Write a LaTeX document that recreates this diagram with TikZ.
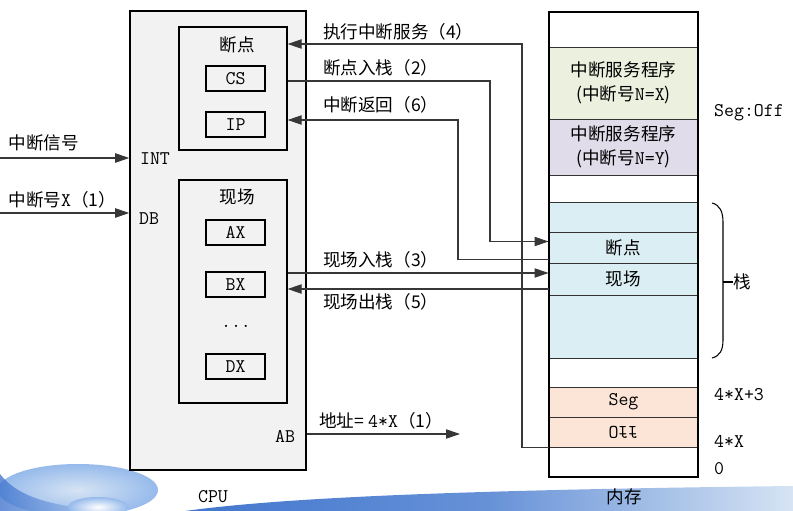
\documentclass[tikz,border=0pt]{standalone}
\usepackage{fontspec}
\setmainfont{Noto Sans CJK SC}
\usepackage{graphicx}
\usetikzlibrary{arrows.meta, positioning, calc}

\definecolor{cpugray}{RGB}{242,242,242}
\definecolor{isrgreen}{RGB}{235,241,222}
\definecolor{isrpurple}{RGB}{224,220,234}
\definecolor{stkblue}{RGB}{218,238,243}
\definecolor{vecpeach}{RGB}{252,229,214}
\definecolor{swblue}{RGB}{66,118,206}
\definecolor{swmid}{RGB}{150,186,235}
\definecolor{swlight}{RGB}{214,228,244}
\definecolor{linkgray}{RGB}{55,55,55}

\newcommand\latn[1]{{\fontsize{16.5}{18}\selectfont\ttfamily #1}}

\begin{document}
\begin{tikzpicture}[
    x=0.03cm, y=-0.03cm,
    >={Triangle[length=4.2mm, width=2.8mm]},
    font=\fontsize{15}{18}\selectfont,
    % --- CPU side ---
    cpubox/.style={draw, line width=1.3pt, fill=cpugray,
        minimum width=5.28cm, minimum height=13.77cm},
    grpbox/.style={draw, line width=1.1pt, minimum width=3.24cm,
        minimum height=#1},
    regbox/.style={draw, line width=1.1pt, minimum width=1.77cm,
        minimum height=0.75cm, font=\fontsize{16.5}{18}\selectfont\ttfamily},
    latin/.style={font=\fontsize{16.5}{18}\selectfont\ttfamily},
    % --- memory side ---
    memrow/.style={draw=black!80, line width=0.8pt, fill=#1, inner sep=0pt,
        minimum width=4.47cm, align=center},
    memframe/.style={draw, line width=2pt, minimum width=4.47cm,
        minimum height=13.95cm},
    % --- connectors ---
    link/.style={draw=linkgray, line width=0.9pt},
    lbl/.style={inner sep=0pt},
]
\useasboundingbox (0,0) rectangle (793,511);

% =============================================
%  Slide decoration (bottom)
% =============================================
\begin{scope}
    \clip (0,0) rectangle (793,511);
    \shade[left color=swblue, right color=swlight, middle color=swblue!75!swlight]
        (185,511) .. controls (280,498) and (450,490) .. (793,486)
        -- (793,511) -- cycle;
    \shade[inner color=swlight, outer color=swmid]
        (78,490) ellipse [x radius=2.4cm, y radius=0.78cm];
    \shade[left color=swblue, right color=swmid!60, opacity=0.8]
        (0,474) .. controls (20,500) and (60,508) .. (120,511) -- (0,511) -- cycle;
    \shade[inner color=white, outer color=swmid]
        (98,507) ellipse [x radius=0.9cm, y radius=0.3cm];
\end{scope}

% =============================================
%  CPU
% =============================================
\node[cpubox] (cpu) at (218,240.5) {};
\node[latin] (cpulbl) at (213,497) {CPU};
\node[latin] (intlbl) at (155,159) {INT};
\node[latin] (dblbl) at (149,219) {DB};
\node[latin] (ablbl) at (285,436) {AB};

% breakpoint registers
\node[grpbox=3.69cm] (bpbox) at (233,88.5) {};
\node (bptitle) at (237,45) {断点};
\node[regbox] (cs) at (235.5,78.5) {CS};
\node[regbox] (ip) at (235.5,124.5) {IP};

% context registers
\node[grpbox=6.69cm] (scbox) at (233,291.5) {};
\node (sctitle) at (237,197) {现场};
\node[regbox] (ax) at (235.5,232.5) {AX};
\node[regbox] (bx) at (235.5,284.5) {BX};
\node[latin] (dots) at (236,326) {...};
\node[regbox] (dx) at (235.5,366.5) {DX};

% =============================================
%  Memory
% =============================================
\node[memrow=isrgreen, minimum height=2.16cm] (isrx) at (623.5,83)
    {中断服务程序\\[2pt](中断号\latn{N=X})};
\node[memrow=isrpurple, minimum height=1.68cm] (isry) at (623.5,147)
    {中断服务程序\\[2pt](中断号\latn{N=Y})};
\node[memrow=stkblue, minimum height=0.9cm] (stkt) at (623.5,217) {};
\node[memrow=stkblue, minimum height=0.93cm] (mbp) at (623.5,247.5) {断点};
\node[memrow=stkblue, minimum height=0.96cm] (msc) at (623.5,279) {现场};
\node[memrow=stkblue, minimum height=1.89cm] (stkb) at (623.5,326.5) {};
\node[memrow=vecpeach, minimum height=0.9cm] (mseg) at (623.5,402) {\latn{Seg}};
\node[memrow=vecpeach, minimum height=0.9cm] (moff) at (623.5,432)
    {\scalebox{1}[-1]{\latn{Off}}};
\node[memframe] (mem) at (623.5,244.5) {};
\node (memlbl) at (624,497) {内存};

% addresses
\node[latin, anchor=west] (segoff) at (710,113) {Seg:Off};
\node[latin, anchor=west] (a43) at (710,395) {4*X+3};
\node[latin, anchor=west] (a4) at (710,441) {4*X};
\node[latin, anchor=west] (a0) at (710,469) {0};

% stack brace
\draw[line width=0.9pt] (712,203) .. controls (720,205) and (723,212) .. (723,222)
    -- (723,340) .. controls (723,350) and (720,356) .. (712,358);
\node[anchor=west, inner sep=0pt] (stklbl) at (733,282) {栈};
\draw[line width=0.9pt] (723,282) -- (stklbl.west);

% =============================================
%  Connections
% =============================================
\coordinate (k4) at (522,44);
\coordinate (k2) at (490,81);
\coordinate (k6) at (458,120);
\coordinate (k3) at ([yshift=0.18cm]msc.west);
\coordinate (k5) at ([yshift=-0.3cm]msc.west);
\coordinate (intin) at (0,158);
\coordinate (dbin) at (0,213);
\coordinate (abend) at (460,434);

% signals into the CPU
\draw[link, ->] (intin) -- (intin -| cpu.west)
    node[lbl, pos=0, anchor=south west, xshift=0.24cm, yshift=0.18cm] {中断信号};
\draw[link, ->] (dbin) -- (dbin -| cpu.west)
    node[lbl, pos=0, anchor=south west, xshift=0.24cm, yshift=0.12cm]
    {中断号\latn{X}（1）};
\draw[link, ->] (abend -| cpu.east) -- (abend)
    node[lbl, pos=0, anchor=south west, xshift=0.36cm, yshift=0.12cm]
    {地址= \latn{4*X}（1）};

% breakpoint to / from the stack
\draw[link, ->] (k2 -| bpbox.east) -- (k2)
    node[lbl, pos=0, anchor=south west, xshift=1.05cm, yshift=0.14cm] {断点入栈（2）}
    |- ([yshift=0.18cm]mbp.west);
\draw[link, <-] (k6 -| bpbox.east) -- (k6)
    node[lbl, pos=0, anchor=south west, xshift=1.05cm, yshift=0.2cm] {中断返回（6）}
    |- ([yshift=-0.35cm]mbp.west);

% context to / from the stack
\draw[link, ->] (k3 -| scbox.east) -- (k3)
    node[lbl, pos=0, anchor=south west, xshift=1.05cm, yshift=0.14cm] {现场入栈（3）};
\draw[link, <-] (k5 -| scbox.east) -- (k5)
    node[lbl, pos=0, anchor=north west, xshift=1.05cm, yshift=-0.12cm] {现场出栈（5）};

% vector fetch
\draw[link, <-] (k4 -| bpbox.east) -- (k4)
    node[lbl, pos=0, anchor=south west, xshift=1.05cm, yshift=0.1cm] {执行中断服务（4）}
    |- (moff.south west);

\end{tikzpicture}
\end{document}
